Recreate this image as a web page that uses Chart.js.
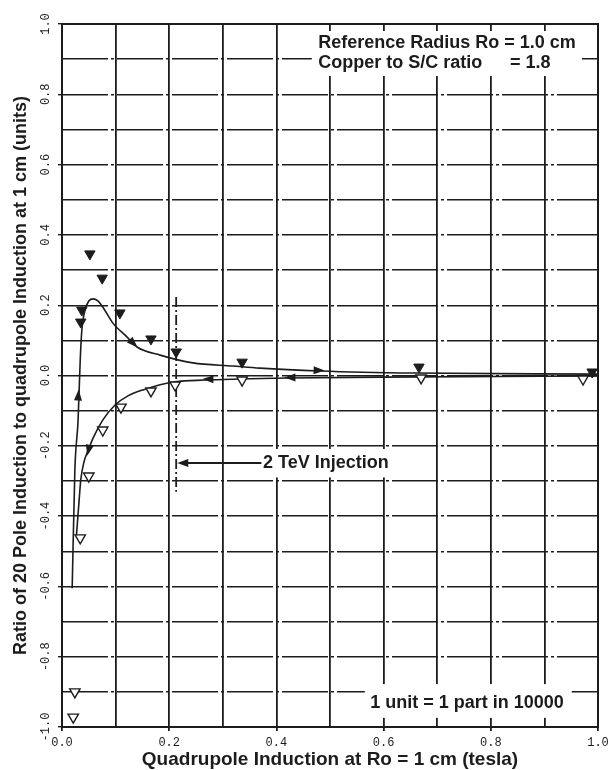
<!DOCTYPE html>
<html>
<head>
<meta charset="utf-8">
<script src="https://cdn.jsdelivr.net/npm/chart.js@4.4.0/dist/chart.umd.min.js"></script>
<style>
  body { margin: 0; background: #fff; }
  #wrap { width: 613px; height: 770px; }
</style>
</head>
<body>
<div id="wrap"><canvas id="chart"></canvas></div>
<script>
// measured points (tesla, units)
const filledX = [0.052, 0.075, 0.037, 0.035, 0.108, 0.166, 0.213, 0.336, 0.666, 0.989];
const filledY = [0.346, 0.277, 0.186, 0.152, 0.178, 0.104, 0.067, 0.038, 0.024, 0.010];

const openX = [0.021, 0.024, 0.034, 0.050, 0.076, 0.110, 0.166, 0.211, 0.336, 0.670, 0.972];
const openY = [-0.972, -0.900, -0.462, -0.286, -0.155, -0.090, -0.044, -0.027, -0.013, -0.007, -0.010];

// fitted curves, up ramp and down ramp
const upX = [0.019, 0.024, 0.030, 0.034, 0.037, 0.043, 0.050, 0.058, 0.067, 0.076, 0.095, 0.121, 0.140, 0.183, 0.244, 0.319, 0.369, 0.481, 0.655, 1.0];
const upY = [-0.605, -0.269, -0.127, 0.044, 0.129, 0.186, 0.212, 0.218, 0.212, 0.195, 0.149, 0.110, 0.081, 0.058, 0.036, 0.027, 0.021, 0.013, 0.007, 0.004];

const downX = [0.027, 0.032, 0.035, 0.041, 0.049, 0.058, 0.076, 0.099, 0.123, 0.151, 0.211, 0.267, 0.336, 0.42, 0.668, 1.0];
const downY = [-0.454, -0.354, -0.297, -0.246, -0.212, -0.178, -0.127, -0.084, -0.058, -0.041, -0.018, -0.013, -0.010, -0.007, -0.004, -0.001];

// 2 TeV injection marker
const injectionX = [0.213, 0.213];
const injectionY = [0.223, -0.331];

const xTicks = [0, 0.2, 0.4, 0.6, 0.8, 1.0];
const yTicks = [-1.0, -0.8, -0.6, -0.4, -0.2, 0.0, 0.2, 0.4, 0.6, 0.8, 1.0];

const ink = '#1c1c1c';
const toPts = (xs, ys) => xs.map((x, i) => ({ x: x, y: ys[i] }));
const isLabelled = (v, list) => list.some(t => Math.abs(t - v) < 1e-6);

// arrow heads along the curves: [fromX, fromY, toX, toY]
const arrows = [
  [0.028, -0.12, 0.031, -0.04],
  [0.121, 0.110, 0.141, 0.080],
  [0.44, 0.016, 0.49, 0.014],
  [0.31, -0.011, 0.262, -0.010],
  [0.47, -0.005, 0.415, -0.006],
  [0.053, -0.19, 0.047, -0.228]
];

const notes = [
  { box: [0.466, 0.98, 0.970, 0.852], lines: [
    { text: 'Reference Radius Ro = 1.0 cm', x: 0.478, y: 0.946 },
    { text: 'Copper to S/C ratio', x: 0.478, y: 0.888 },
    { text: '= 1.8', x: 0.836, y: 0.888 }
  ] },
  { box: [0.373, -0.209, 0.63, -0.290], lines: [
    { text: '2 TeV Injection', x: 0.375, y: -0.249 }
  ], pointer: [0.372, -0.249, 0.215, -0.249] },
  { box: [0.565, -0.878, 0.951, -0.974], lines: [
    { text: '1 unit = 1 part in 10000', x: 0.575, y: -0.932 }
  ] }
];

function toPx(chart, x, y) {
  return [chart.scales.x.getPixelForValue(x), chart.scales.y.getPixelForValue(y)];
}

function arrowHead(ctx, x1, y1, x2, y2) {
  const ang = Math.atan2(y2 - y1, x2 - x1);
  const len = 11, half = 4;
  ctx.beginPath();
  ctx.moveTo(x2, y2);
  ctx.lineTo(x2 - len * Math.cos(ang) + half * Math.sin(ang), y2 - len * Math.sin(ang) - half * Math.cos(ang));
  ctx.lineTo(x2 - len * Math.cos(ang) - half * Math.sin(ang), y2 - len * Math.sin(ang) + half * Math.cos(ang));
  ctx.closePath();
  ctx.fill();
}

const decorPlugin = {
  id: 'decor',
  beforeDatasetsDraw(chart) {
    const ctx = chart.ctx;
    const a = chart.chartArea;
    ctx.save();
    ctx.fillStyle = '#fff';
    notes.forEach(n => {
      const [x1, y1] = toPx(chart, n.box[0], n.box[1]);
      const [x2, y2] = toPx(chart, n.box[2], n.box[3]);
      ctx.fillRect(x1, y1, x2 - x1, y2 - y1);
    });
    ctx.strokeStyle = ink;
    ctx.lineWidth = 2;
    ctx.strokeRect(a.left, a.top, a.right - a.left, a.bottom - a.top);
    ctx.restore();
  },
  afterDatasetsDraw(chart) {
    const ctx = chart.ctx;
    ctx.save();
    ctx.fillStyle = ink;
    ctx.strokeStyle = ink;
    arrows.forEach(r => {
      const [x1, y1] = toPx(chart, r[0], r[1]);
      const [x2, y2] = toPx(chart, r[2], r[3]);
      arrowHead(ctx, x1, y1, x2, y2);
    });
    ctx.font = 'bold 18px "Liberation Sans", Arial, sans-serif';
    ctx.textBaseline = 'middle';
    ctx.textAlign = 'left';
    notes.forEach(n => {
      n.lines.forEach(l => {
        const [x, y] = toPx(chart, l.x, l.y);
        ctx.fillText(l.text, x, y);
      });
      if (n.pointer) {
        const [x1, y1] = toPx(chart, n.pointer[0], n.pointer[1]);
        const [x2, y2] = toPx(chart, n.pointer[2], n.pointer[3]);
        ctx.lineWidth = 1.8;
        ctx.beginPath();
        ctx.moveTo(x1, y1);
        ctx.lineTo(x2 + 8, y2);
        ctx.stroke();
        arrowHead(ctx, x1, y1, x2, y2);
      }
    });
    ctx.restore();
  }
};

const tickFont = { family: '"Liberation Mono", "DejaVu Sans Mono", monospace', size: 12 };
const titleFont = { family: '"Liberation Sans", Arial, sans-serif', weight: 'bold', lineHeight: 1 };
const hDash = [46, 3, 3, 3];

new Chart(document.getElementById('chart'), {
  type: 'scatter',
  data: {
    datasets: [
      {
        label: 'up ramp points',
        data: toPts(filledX, filledY),
        pointStyle: 'triangle',
        rotation: 180,
        pointRadius: 6,
        backgroundColor: ink,
        borderColor: ink,
        borderWidth: 1
      },
      {
        label: 'down ramp points',
        data: toPts(openX, openY),
        pointStyle: 'triangle',
        rotation: 180,
        pointRadius: 6,
        backgroundColor: '#fff',
        borderColor: ink,
        borderWidth: 1.4
      },
      {
        label: 'up ramp',
        data: toPts(upX, upY),
        showLine: true,
        cubicInterpolationMode: 'monotone',
        pointRadius: 0,
        borderColor: ink,
        borderWidth: 1.6
      },
      {
        label: 'down ramp',
        data: toPts(downX, downY),
        showLine: true,
        cubicInterpolationMode: 'monotone',
        pointRadius: 0,
        borderColor: ink,
        borderWidth: 1.6
      },
      {
        label: '2 TeV injection',
        data: toPts(injectionX, injectionY),
        showLine: true,
        pointRadius: 0,
        borderColor: ink,
        borderWidth: 1.8,
        borderDash: [10, 3, 2, 3]
      }
    ]
  },
  options: {
    responsive: true,
    maintainAspectRatio: false,
    animation: false,
    layout: { padding: { top: 24, right: 15, left: 0, bottom: 0 } },
    plugins: { legend: { display: false }, tooltip: { enabled: false } },
    scales: {
      x: {
        type: 'linear',
        min: 0,
        max: 1,
        ticks: {
          stepSize: 0.1,
          padding: 5,
          color: ink,
          font: tickFont,
          maxRotation: 0,
          callback: v => isLabelled(v, xTicks) ? v.toFixed(1) : ''
        },
        grid: {
          color: ink,
          lineWidth: 1.8,
          tickLength: 4,
          tickColor: c => (c.tick && isLabelled(c.tick.value, xTicks)) ? ink : 'rgba(0,0,0,0)'
        },
        border: { display: true, color: ink, width: 2 },
        title: {
          display: true,
          text: 'Quadrupole Induction at Ro = 1 cm (tesla)',
          color: ink,
          font: Object.assign({ size: 19 }, titleFont),
          padding: { top: 0, bottom: 1 }
        },
        afterFit: s => { s.height = 43; s.paddingLeft = 0; s.paddingRight = 0; }
      },
      y: {
        type: 'linear',
        min: -1,
        max: 1,
        ticks: {
          stepSize: 0.1,
          minRotation: 90,
          maxRotation: 90,
          crossAlign: 'center',
          padding: -2,
          color: ink,
          font: tickFont,
          callback: v => isLabelled(v, yTicks) ? v.toFixed(1) : ''
        },
        grid: {
          color: ink,
          lineWidth: 1.4,
          tickLength: 4,
          borderDash: hDash,
          tickColor: c => (c.tick && isLabelled(c.tick.value, yTicks)) ? ink : 'rgba(0,0,0,0)'
        },
        border: { display: false, dash: hDash },
        title: {
          display: true,
          text: 'Ratio of 20 Pole Induction to quadrupole Induction at 1 cm (units)',
          color: ink,
          font: Object.assign({ size: 18 }, titleFont),
          padding: { top: 12, bottom: 0 }
        },
        afterFit: s => { s.width = 62; s.paddingTop = 0; s.paddingBottom = 0; }
      }
    }
  },
  plugins: [decorPlugin]
});
</script>
</body>
</html>
